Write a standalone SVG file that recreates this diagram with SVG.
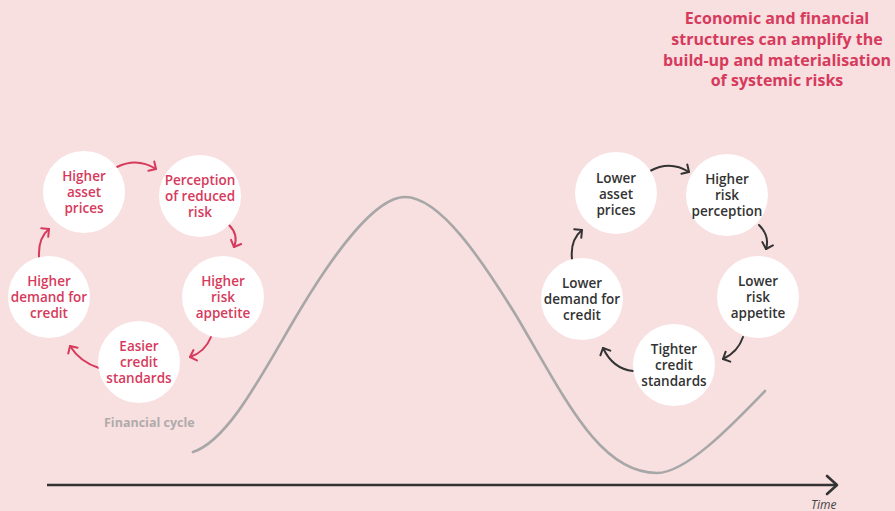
<svg xmlns="http://www.w3.org/2000/svg" width="895" height="511" viewBox="0 0 895 511">
<defs>
<style>
.bg{fill:#f8dfe0}
.node{fill:#ffffff}
.t{font-family:"Open Sans","Liberation Sans",sans-serif;font-weight:600;font-size:13.5px;text-anchor:middle}
.red{fill:#d63a5c}
.dark{fill:#333333}
.ar{fill:none;stroke-width:2;stroke-linecap:round}
.arR{stroke:#d63a5c}
.arD{stroke:#333333}
.title{font-family:"Open Sans","Liberation Sans",sans-serif;font-weight:700;font-size:16px;fill:#d63a5c;text-anchor:middle}
</style>
<marker id="hR" markerUnits="userSpaceOnUse" markerWidth="16" markerHeight="16" refX="8" refY="8" orient="auto" viewBox="0 0 16 16">
<path d="M2.5,2.5 L8,8 L2.5,13.5" fill="none" stroke="#d63a5c" stroke-width="2" stroke-linecap="round" stroke-linejoin="round"/>
</marker>
<marker id="hD" markerUnits="userSpaceOnUse" markerWidth="16" markerHeight="16" refX="8" refY="8" orient="auto" viewBox="0 0 16 16">
<path d="M2.5,2.5 L8,8 L2.5,13.5" fill="none" stroke="#333333" stroke-width="2" stroke-linecap="round" stroke-linejoin="round"/>
</marker>
</defs>
<rect class="bg" x="0" y="0" width="895" height="511"/>

<g id="title">
<text class="title" x="777" y="24"><tspan x="777" y="24">Economic and financial</tspan><tspan x="777" y="45">structures can amplify the</tspan><tspan x="777" y="66">build-up and materialisation</tspan><tspan x="777" y="86">of systemic risks</tspan></text>
</g>

<g id="financial-cycle">
<path d="M193,452 C230,440 265,368 300,310 C333,255 375,197 405,197 C440,197 482,260 517,317 C567,402 600,473 657,473 C687,473 735,422 765,391" fill="none" stroke="#a7a7a7" stroke-width="2.6" stroke-linecap="round"/>
<text x="104" y="427" style="font-family:'Open Sans','Liberation Sans',sans-serif;font-weight:700;font-size:12.5px;fill:#b0abab">Financial cycle</text>
</g>

<g id="time-axis">
<line x1="47" y1="485" x2="836" y2="485" stroke="#333333" stroke-width="2.6"/>
<path d="M827,476 L837,485 L827,494" fill="none" stroke="#333333" stroke-width="2.6" stroke-linecap="round" stroke-linejoin="round"/>
<text x="811" y="509" style="font-family:'Open Sans','Liberation Sans',sans-serif;font-style:italic;font-size:12px;fill:#444444">Time</text>
</g>

<g id="connectors">
<path class="ar arR" d="M117,167 Q137,157 156,169" marker-end="url(#hR)"/>
<path class="ar arR" d="M229,225 Q239,235 234,247" marker-end="url(#hR)"/>
<path class="ar arR" d="M211,337 Q205,352 190,357" marker-end="url(#hR)"/>
<path class="ar arR" d="M99,368 Q80,362 70,346" marker-end="url(#hR)"/>
<path class="ar arR" d="M39,257 Q38,238 49,229" marker-end="url(#hR)"/>
<path class="ar arD" d="M650,171 Q670,160 689,172" marker-end="url(#hD)"/>
<path class="ar arD" d="M759,225 Q770,236 766,249" marker-end="url(#hD)"/>
<path class="ar arD" d="M743,337 Q738,352 723,359" marker-end="url(#hD)"/>
<path class="ar arD" d="M633,371 Q613,369 603,348" marker-end="url(#hD)"/>
<path class="ar arD" d="M572,259 Q570,240 582,230" marker-end="url(#hD)"/>
</g>

<g id="higher-asset-prices">
<circle class="node" cx="84" cy="192" r="41"/>
<text class="t red"><tspan x="84" y="181">Higher</tspan><tspan x="84" y="197">asset</tspan><tspan x="84" y="213">prices</tspan></text>
</g>
<g id="perception-reduced-risk">
<circle class="node" cx="200" cy="196" r="41"/>
<text class="t red"><tspan x="200" y="185">Perception</tspan><tspan x="200" y="201">of reduced</tspan><tspan x="200" y="217">risk</tspan></text>
</g>
<g id="higher-risk-appetite">
<circle class="node" cx="223" cy="297" r="41"/>
<text class="t red"><tspan x="223" y="286">Higher</tspan><tspan x="223" y="302">risk</tspan><tspan x="223" y="318">appetite</tspan></text>
</g>
<g id="easier-credit-standards">
<circle class="node" cx="139" cy="362" r="41"/>
<text class="t red"><tspan x="139" y="351">Easier</tspan><tspan x="139" y="367">credit</tspan><tspan x="139" y="383">standards</tspan></text>
</g>
<g id="higher-demand-credit">
<circle class="node" cx="49" cy="297" r="41"/>
<text class="t red"><tspan x="49" y="286">Higher</tspan><tspan x="49" y="302">demand for</tspan><tspan x="49" y="318">credit</tspan></text>
</g>

<g id="lower-asset-prices">
<circle class="node" cx="616" cy="193" r="41"/>
<text class="t dark"><tspan x="616" y="183">Lower</tspan><tspan x="616" y="199">asset</tspan><tspan x="616" y="215">prices</tspan></text>
</g>
<g id="higher-risk-perception">
<circle class="node" cx="727" cy="195" r="41"/>
<text class="t dark"><tspan x="727" y="184">Higher</tspan><tspan x="727" y="200">risk</tspan><tspan x="727" y="216">perception</tspan></text>
</g>
<g id="lower-risk-appetite">
<circle class="node" cx="758" cy="297" r="41"/>
<text class="t dark"><tspan x="758" y="286">Lower</tspan><tspan x="758" y="302">risk</tspan><tspan x="758" y="318">appetite</tspan></text>
</g>
<g id="tighter-credit-standards">
<circle class="node" cx="674" cy="365" r="41"/>
<text class="t dark"><tspan x="674" y="354">Tighter</tspan><tspan x="674" y="370">credit</tspan><tspan x="674" y="386">standards</tspan></text>
</g>
<g id="lower-demand-credit">
<circle class="node" cx="582" cy="299" r="41"/>
<text class="t dark"><tspan x="582" y="288">Lower</tspan><tspan x="582" y="304">demand for</tspan><tspan x="582" y="320">credit</tspan></text>
</g>
</svg>
